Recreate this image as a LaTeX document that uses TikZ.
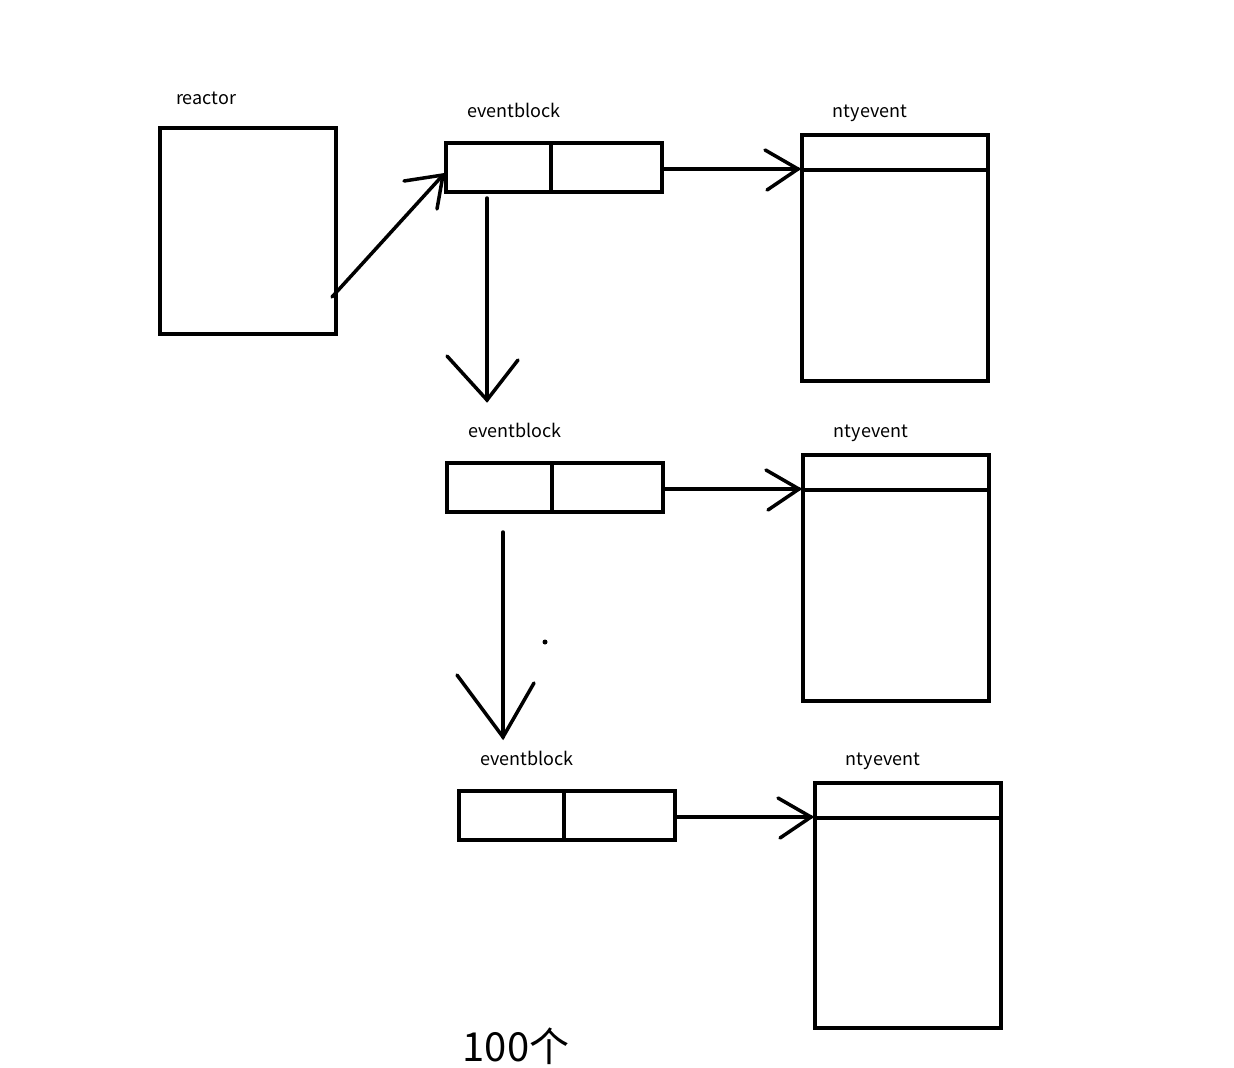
\documentclass[tikz,border=0pt]{standalone}
\usepackage{fontspec}
\setmainfont{Noto Sans CJK SC}
\begin{document}
\begin{tikzpicture}[x=1pt,y=-1pt,line width=3.5pt,
  box/.style={draw,line width=3.5pt},
  lbl/.style={font=\fontsize{18}{18}\selectfont,inner sep=0pt},
  arm/.style={line width=3.5pt,line cap=round}]
\useasboundingbox (0,0) rectangle (1234,1068);
% reactor
\node[lbl] (lr) at (206,98) {reactor};
\draw[box] (160,128) rectangle (336,334);
\coordinate (rs) at (332,297);
% eventblocks
\node[lbl] (l1) at (514,110) {eventblock};
\draw[box] (446,143) rectangle (662,192); \draw[box] (551,143)--(551,192);
\node[lbl] (l2) at (515,430) {eventblock};
\draw[box] (447,463) rectangle (663,512); \draw[box] (552,463)--(552,512);
\node[lbl] (l3) at (527,758) {eventblock};
\draw[box] (459,791) rectangle (675,840); \draw[box] (564,791)--(564,840);
% ntyevents
\node[lbl] (n1) at (870,113) {ntyevent};
\draw[box] (802,135) rectangle (988,381); \draw[box] (802,170)--(988,170);
\node[lbl] (n2) at (871,433) {ntyevent};
\draw[box] (803,455) rectangle (989,701); \draw[box] (803,490)--(989,490);
\node[lbl] (n3) at (883,761) {ntyevent};
\draw[box] (815,783) rectangle (1001,1028); \draw[box] (815,818)--(1001,818);
% arrows
\draw[arm] (332,297)--(443,175); \draw[arm] (404,181)--(443,175)--(437,209);
\draw[arm] (662,169)--(798,169); \draw[arm] (765,150)--(798,169)--(767,190);
\draw[arm] (663,489)--(799,489); \draw[arm] (766,470)--(799,489)--(768,510);
\draw[arm] (675,817)--(811,817); \draw[arm] (778,798)--(811,817)--(780,838);
\draw[arm] (487,198)--(487,400); \draw[arm] (447,356)--(487,400)--(518,360);
\draw[arm] (503,532)--(503,737); \draw[arm] (457,675)--(503,737)--(534,683);
\fill (545,642) circle (2.5);
\node[font=\fontsize{40}{40}\selectfont,anchor=west,inner sep=0pt] (h) at (461,1046) {100个};
\end{tikzpicture}
\end{document}
